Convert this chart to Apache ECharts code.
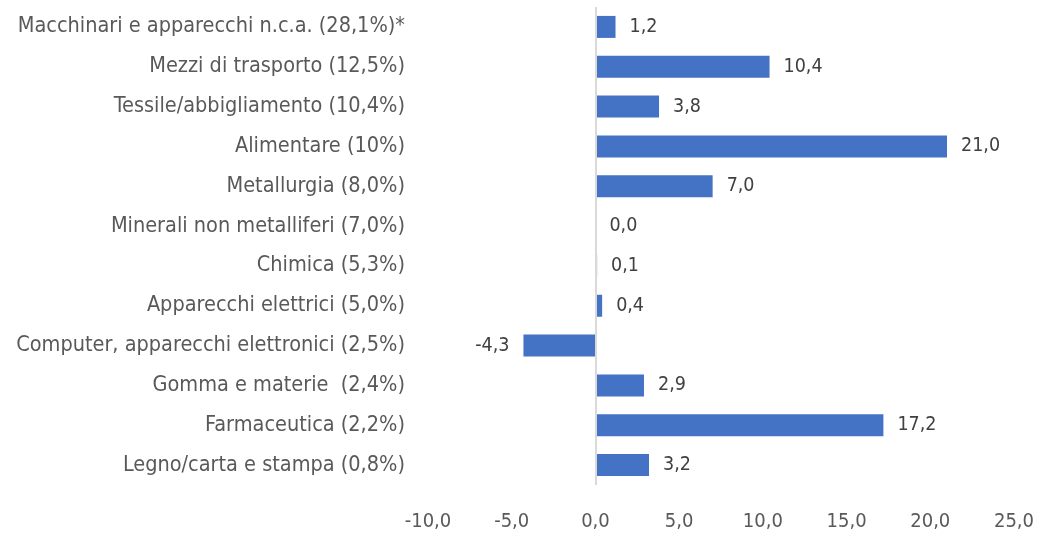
<!DOCTYPE html>
<html>
<head>
    <meta charset="utf-8">
    <title>ECharts</title>
    <script src="https://cdn.jsdelivr.net/npm/echarts@6/dist/echarts.min.js" type="text/javascript"></script>
</head>
<body style="margin:0;background:#fff;">
<div id="div1" style="width: 1038px;height:538px;"></div>
<script type="text/javascript">
    var categories = [
        'Macchinari e apparecchi n.c.a. (28,1%)*',
        'Mezzi di trasporto (12,5%)',
        'Tessile/abbigliamento (10,4%)',
        'Alimentare (10%)',
        'Metallurgia (8,0%)',
        'Minerali non metalliferi (7,0%)',
        'Chimica (5,3%)',
        'Apparecchi elettrici (5,0%)',
        'Computer, apparecchi elettronici (2,5%)',
        'Gomma e materie  (2,4%)',
        'Farmaceutica (2,2%)',
        'Legno/carta e stampa (0,8%)'
    ];
    var values = [1.2, 10.4, 3.8, 21.0, 7.0, 0.0, 0.1, 0.4, -4.3, 2.9, 17.2, 3.2];
    var tickMin = -10, tickMax = 25, tickStep = 5;

    var font = '"Liberation Sans Narrow", "DejaVu Sans Condensed", sans-serif';
    function fmt(v) { return v.toFixed(1).replace('.', ','); }

    var myChart1 = echarts.init(document.getElementById('div1'));
    var option1 = {
        backgroundColor: '#fff',
        animation: false,
        textStyle: { fontFamily: font },
        grid: { left: 428, right: 24, top: 7, bottom: 53, outerBoundsMode: 'none', containLabel: false },
        xAxis: {
            type: 'value',
            min: tickMin,
            max: tickMax,
            interval: tickStep,
            axisLine: { show: false },
            axisTick: { show: false },
            splitLine: { show: false },
            axisLabel: {
                color: '#595959',
                fontSize: 20,
                margin: 27,
                fontFamily: font,
                formatter: function (v) { return fmt(v); }
            }
        },
        yAxis: {
            type: 'category',
            inverse: true,
            data: categories,
            axisLine: { show: false },
            axisTick: { show: false },
            axisLabel: {
                color: '#595959',
                fontSize: 21.5,
                margin: 23,
                fontFamily: font
            }
        },
        series: [{
            type: 'bar',
            barWidth: 22,
            itemStyle: { color: '#4472C4' },
            data: values.map(function (v) {
                return {
                    value: v,
                    label: { position: v < 0 ? 'left' : 'right' }
                };
            }),
            label: {
                show: true,
                distance: 14,
                color: '#404040',
                fontSize: 19.5,
                fontFamily: font,
                formatter: function (p) { return fmt(p.value); }
            },
            markLine: {
                silent: true,
                symbol: 'none',
                label: { show: false },
                lineStyle: { color: '#d9d9d9', type: 'solid', width: 2 },
                data: [{ xAxis: 0 }]
            }
        }]
    };
    myChart1.setOption(option1);
</script>
</body>
</html>
